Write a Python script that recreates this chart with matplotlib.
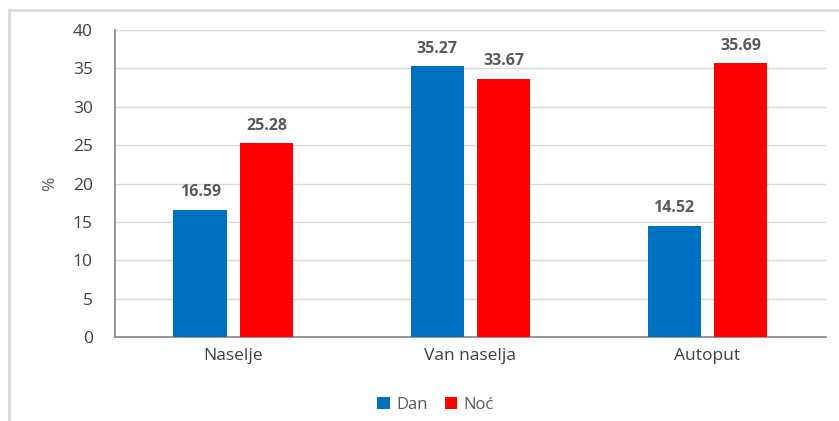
import numpy as np
import matplotlib
import matplotlib.pyplot as plt
from matplotlib.lines import Line2D

matplotlib.rc('font', family=['Open Sans', 'DejaVu Sans'])

categories = ['Naselje', 'Van naselja', 'Autoput']
dan = [16.59, 35.27, 14.52]
noc = [25.28, 33.67, 35.69]
series_names = ['Dan', 'Noć']
yticks = [0, 5, 10, 15, 20, 25, 30, 35, 40]

blue = '#0070C0'
red = '#FF0000'
grey = '#595959'

fig = plt.figure(figsize=(8.39, 4.21), dpi=100)
ax = fig.add_axes([0.137, 0.1995, 0.8475, 0.7292])

x = np.arange(len(categories))
w = 0.224
off = 0.141
b1 = ax.bar(x - off, dan, w, color=blue, label=series_names[0], zorder=3)
b2 = ax.bar(x + off, noc, w, color=red, label=series_names[1], zorder=3)

for bars, vals in ((b1, dan), (b2, noc)):
    for r, v in zip(bars, vals):
        ax.text(r.get_x() + r.get_width() / 2, v + 1.2, f'{v:.2f}',
                ha='center', va='bottom', fontsize=11.5, fontweight='bold',
                color=grey)

ax.set_xlim(-0.5, 2.5)
ax.set_ylim(0, 40)
ax.set_yticks(yticks)
ax.set_xticks(x)
ax.set_xticklabels(categories)
ax.tick_params(axis='both', length=0, labelsize=12.5, colors='#404040', pad=8)
ax.tick_params(axis='y', pad=16)
ax.yaxis.grid(True, color='#D9D9D9', linewidth=1, zorder=0)
for s in ('top', 'right'):
    ax.spines[s].set_visible(False)
for s in ('left', 'bottom'):
    ax.spines[s].set_color('#868686')
    ax.spines[s].set_linewidth(1.2)
ax.set_ylabel('%', fontsize=12.5, color=grey)
ax.yaxis.set_label_coords(-0.08, 0.5)

ax.legend(loc='upper center', bbox_to_anchor=(0.451, -0.145), ncol=2,
          frameon=False, fontsize=12, handlelength=0.75, handleheight=0.75,
          handletextpad=0.4, columnspacing=1.0, labelcolor=grey)

# outer chart border
fig.add_artist(Line2D([9 / 839, 1], [1 - 10 / 421] * 2, color='#D9D9D9', lw=2,
                      transform=fig.transFigure))
fig.add_artist(Line2D([9 / 839] * 2, [0, 1 - 10 / 421], color='#D9D9D9', lw=2,
                      transform=fig.transFigure))

plt.savefig('out.png', dpi=100)
